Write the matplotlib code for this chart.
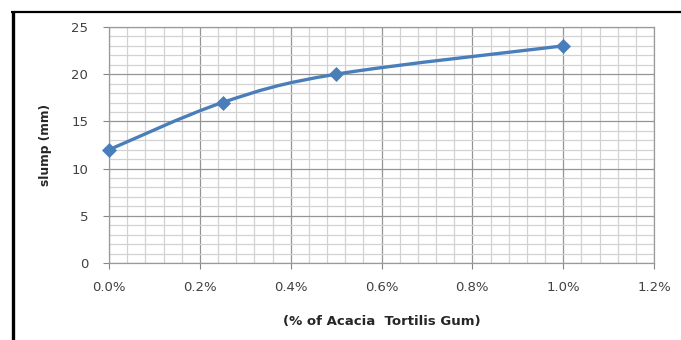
import matplotlib
matplotlib.use("Agg")
import matplotlib.pyplot as plt
from matplotlib.path import Path
from matplotlib.patches import PathPatch
from matplotlib.lines import Line2D
from matplotlib.ticker import MultipleLocator, FuncFormatter

# Slump vs. gum dosage
gum_pct = [0.0, 0.25, 0.5, 1.0]
slump_mm = [12, 17, 20, 23]

x_label = "(% of Acacia  Tortilis Gum)"
y_label = "slump (mm)"

LINE_BLUE = "#4a7ebb"
TEXT_GREY = "#404040"

plt.rcParams["font.family"] = ["DejaVu Sans"]

fig = plt.figure(figsize=(6.81, 3.40), dpi=100)
ax = fig.add_axes([109 / 681, 1 - 263 / 340, (654 - 109) / 681, (263 - 27) / 340])


def smooth_path(xs, ys):
    # Bezier segments through every point (Excel-style smoothed line)
    pts = list(zip(xs, ys))
    n = len(pts)
    verts = [pts[0]]
    codes = [Path.MOVETO]
    for i in range(n - 1):
        p0 = pts[max(i - 1, 0)]
        p1 = pts[i]
        p2 = pts[i + 1]
        p3 = pts[min(i + 2, n - 1)]
        c1 = (p1[0] + (p2[0] - p0[0]) / 6, p1[1] + (p2[1] - p0[1]) / 6)
        c2 = (p2[0] - (p3[0] - p1[0]) / 6, p2[1] - (p3[1] - p1[1]) / 6)
        verts += [c1, c2, p2]
        codes += [Path.CURVE4] * 3
    return Path(verts, codes)


ax.add_patch(PathPatch(smooth_path(gum_pct, slump_mm), fill=False,
                       edgecolor=LINE_BLUE, lw=2.4, capstyle="round", zorder=3))
ax.plot(gum_pct, slump_mm, linestyle="none", marker="D", markersize=7,
        color=LINE_BLUE, markeredgewidth=0.5, zorder=4, clip_on=False)

ax.set_xlim(0, 1.2)
ax.set_ylim(0, 25)
ax.xaxis.set_major_locator(MultipleLocator(0.2))
ax.xaxis.set_minor_locator(MultipleLocator(0.04))
ax.yaxis.set_major_locator(MultipleLocator(5))
ax.yaxis.set_minor_locator(MultipleLocator(1))
ax.xaxis.set_major_formatter(FuncFormatter(lambda v, p: f"{v:.1f}%"))

ax.grid(which="major", color="#959595", lw=0.9)
ax.grid(which="minor", color="#d2d2d2", lw=0.9)
ax.set_axisbelow(True)
for side in ax.spines.values():
    side.set_color("#9a9a9a")
    side.set_linewidth(0.9)

ax.tick_params(which="major", direction="out", length=4, color="#868686",
               labelsize=9.5, labelcolor=TEXT_GREY)
ax.tick_params(axis="x", which="major", pad=9)
ax.tick_params(axis="y", which="major", pad=11)
ax.tick_params(which="minor", length=0)

ax.set_xlabel(x_label, fontsize=9.5, fontweight="bold", color="#262626", labelpad=15)
ax.set_ylabel(y_label, fontsize=8.8, fontweight="bold", color="#262626", labelpad=14)

# outer border (left and top edges)
fig.add_artist(Line2D([12.5 / 681, 12.5 / 681], [0, 1 - 11.5 / 340],
                      transform=fig.transFigure, color="black", lw=2.4,
                      solid_capstyle="butt"))
fig.add_artist(Line2D([11 / 681, 1], [1 - 11.5 / 340, 1 - 11.5 / 340],
                      transform=fig.transFigure, color="black", lw=1.6,
                      solid_capstyle="butt"))

fig.savefig("out.png", dpi=100, facecolor="white")
